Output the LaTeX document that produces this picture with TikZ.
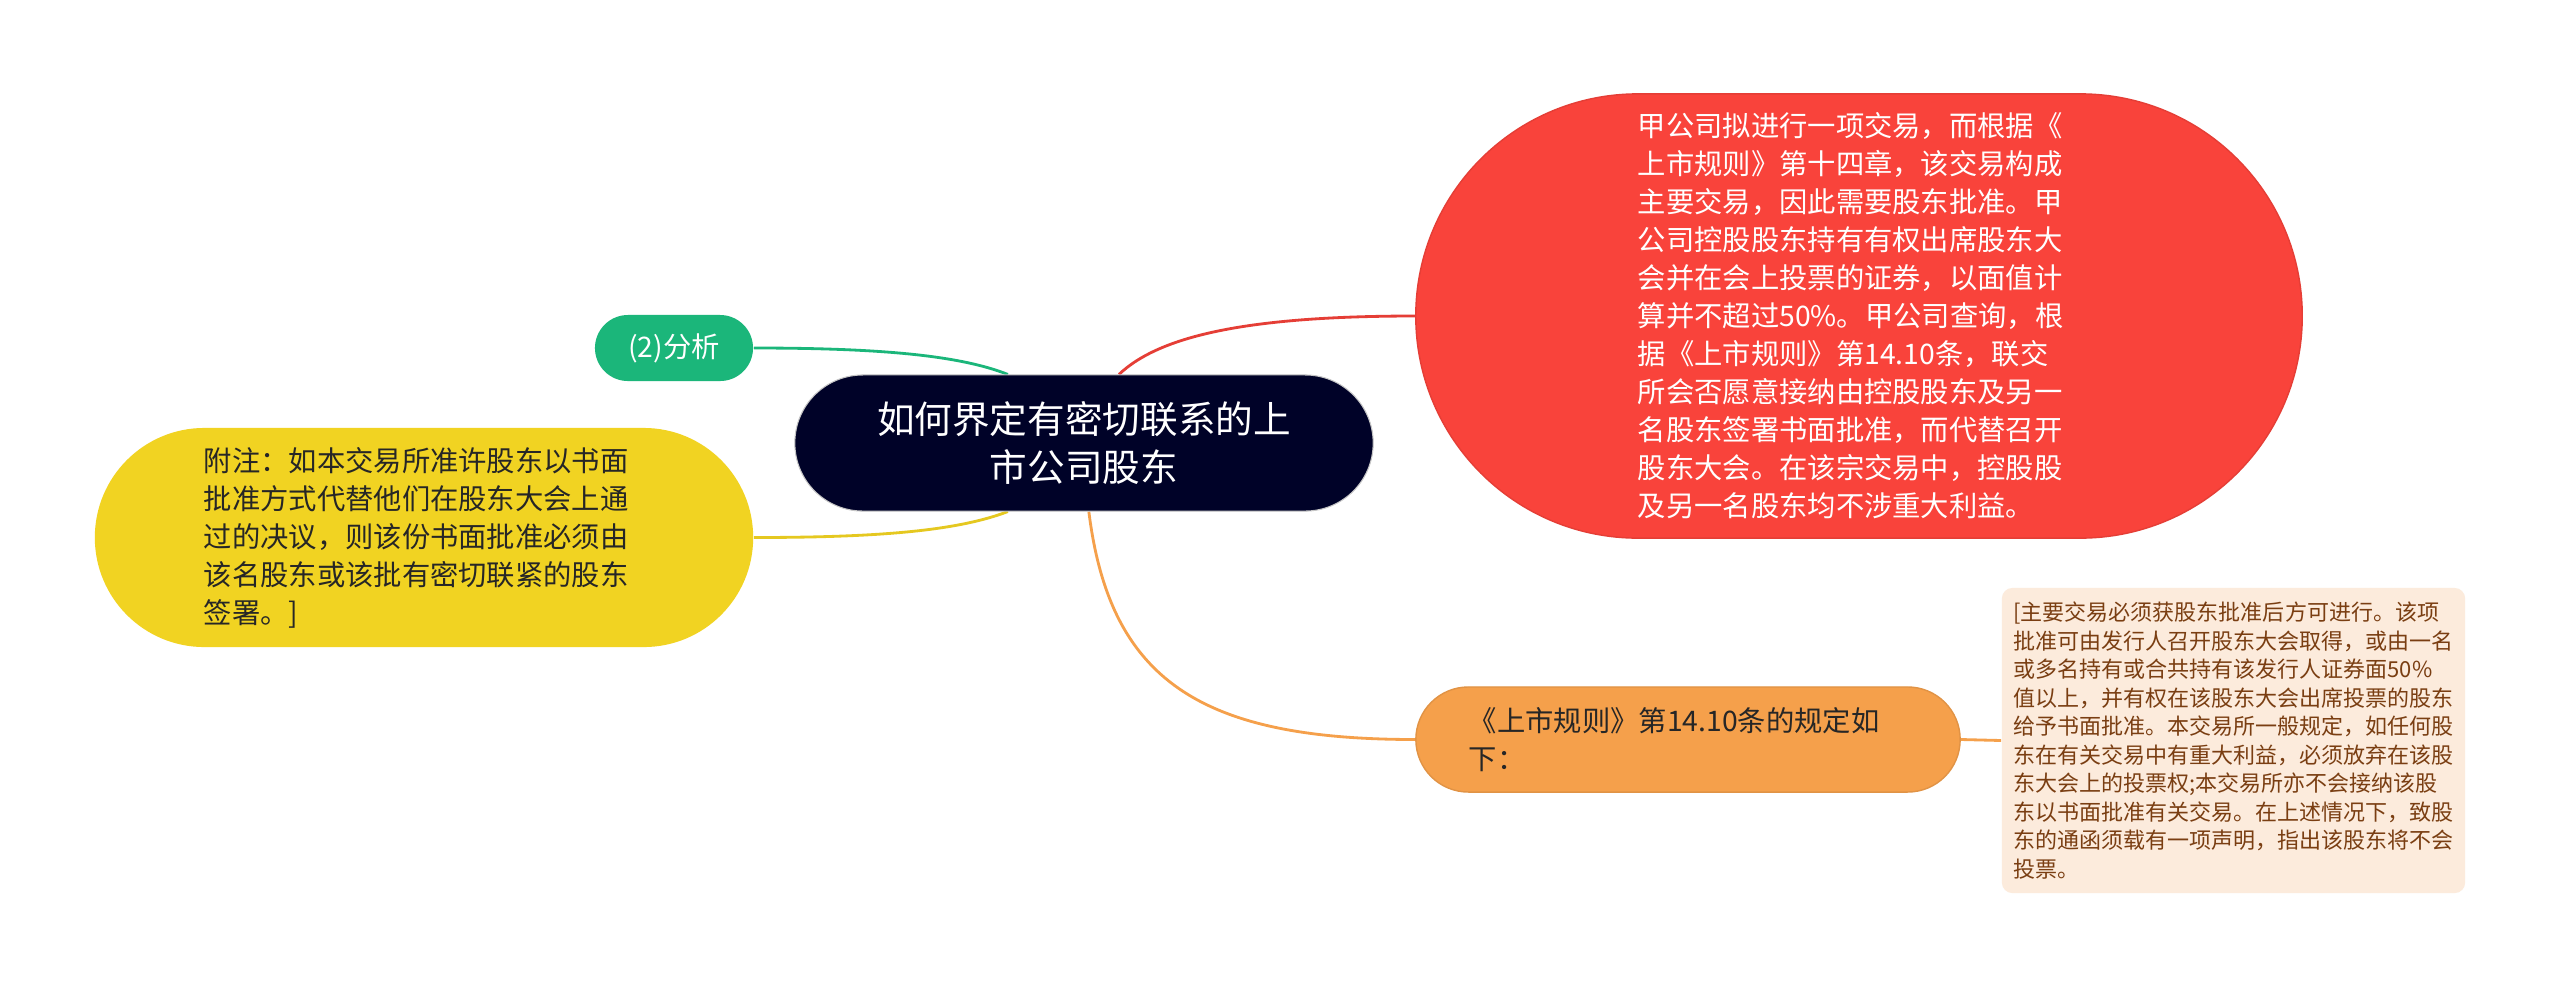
\documentclass[tikz,border=0pt]{standalone}
\usepackage{fontspec}
\setmainfont{Noto Sans CJK SC}
\usepackage{xcolor}
\usetikzlibrary{shapes.misc, backgrounds}
\definecolor{mroot}{HTML}{000228}
\definecolor{mgreen}{HTML}{1BB67A}
\definecolor{myellow}{HTML}{F1D322}
\definecolor{mred}{HTML}{F9433B}
\definecolor{morange}{HTML}{F5A04B}
\definecolor{mbeige}{HTML}{FCEBDC}
\definecolor{mbrown}{HTML}{7A3E12}
\definecolor{mink}{HTML}{262626}
\tikzset{
  pill/.style={rounded rectangle, inner xsep=0pt, inner ysep=2pt, align=left,
               font=\fontsize{8.05pt}{10.8pt}\selectfont},
  rootpill/.style={pill, fill=mroot, draw=gray!45, line width=0.3pt, text=white,
                   align=center, minimum width=5.78cm, minimum height=1.36cm,
                   font=\fontsize{10.7pt}{13.7pt}\selectfont},
  notebox/.style={rectangle, fill=mbeige, rounded corners=3pt, text=mbrown,
                  align=left, text width=4.4cm, inner xsep=0.115cm,
                  minimum width=4.63cm, minimum height=3.05cm,
                  font=\fontsize{6.26pt}{8.1pt}\selectfont},
  link/.style={line width=0.8pt},
}

\begin{document}
\begin{tikzpicture}[x=0.01cm, y=-0.01cm]
  \useasboundingbox (0,0) rectangle (2560,987);

  %% central topic
  \node[rootpill] (root) at (1084,443) {如何界定有密切联系的上\\市公司股东};

  %% left branches
  \node[pill, fill=mgreen, text=white, minimum width=1.58cm, minimum height=0.66cm]
    (analyse) at (674,348) {(2)分析};
  \node[pill, fill=myellow, text=mink, text width=4.4cm,
        minimum width=6.58cm, minimum height=2.19cm] (remark) at (424,537.5)
    {附注：如本交易所准许股东以书面\\批准方式代替他们在股东大会上通\\过的决议，则该份书面批准必须由\\该名股东或该批有密切联紧的股东\\签署。]};

  %% right branches
  \node[pill, fill=mred, draw=mred!92!black, line width=0.4pt, text=white,
        text width=4.42cm, minimum width=8.86cm, minimum height=4.44cm]
    (case) at (1859,316)
    {甲公司拟进行一项交易，而根据《\\上市规则》第十四章，该交易构成\\主要交易，因此需要股东批准。甲\\公司控股股东持有有权出席股东大\\会并在会上投票的证券，以面值计\\算并不超过50\%。甲公司查询，根\\据《上市规则》第14.10条，联交\\所会否愿意接纳由控股股东及另一\\名股东签署书面批准，而代替召开\\股东大会。在该宗交易中，控股股\\及另一名股东均不涉重大利益。};
  \node[pill, fill=morange, draw=morange!92!black, line width=0.4pt, text=mink,
        text width=4.38cm, minimum width=5.44cm, minimum height=1.05cm]
    (rule) at (1688,739.5) {《上市规则》第14.10条的规定如\\下：};
  \node[notebox] (ruletext) at (2233.5,740.5)
    {[主要交易必须获股东批准后方可进行。该项\\批准可由发行人召开股东大会取得，或由一名\\或多名持有或合共持有该发行人证券面50\%\\值以上，并有权在该股东大会出席投票的股东\\给予书面批准。本交易所一般规定，如任何股\\东在有关交易中有重大利益，必须放弃在该股\\东大会上的投票权;本交易所亦不会接纳该股\\东以书面批准有关交易。在上述情况下，致股\\东的通函须载有一项声明，指出该股东将不会\\投票。};

  %% connectors, kept behind the nodes
  \begin{scope}[on background layer]
    \fill[white] (0,0) rectangle (2560,987);
    \draw[link, mgreen] (analyse.east) .. controls +(127,0) and +(-48,-19) .. (root.138);
    \draw[link, myellow!95!black] (remark.east) .. controls +(127,0) and +(-50,19) .. (root.222);
    \draw[link, mred!92!black] (root.63) .. controls +(41,-39) and +(-166,0) .. (case.west);
    \draw[link, morange] (root.274) .. controls +(21,168) and +(-216,0) .. (rule.west);
    \draw[link, morange] (rule.east) -- (ruletext.west);
  \end{scope}
\end{tikzpicture}
\end{document}
